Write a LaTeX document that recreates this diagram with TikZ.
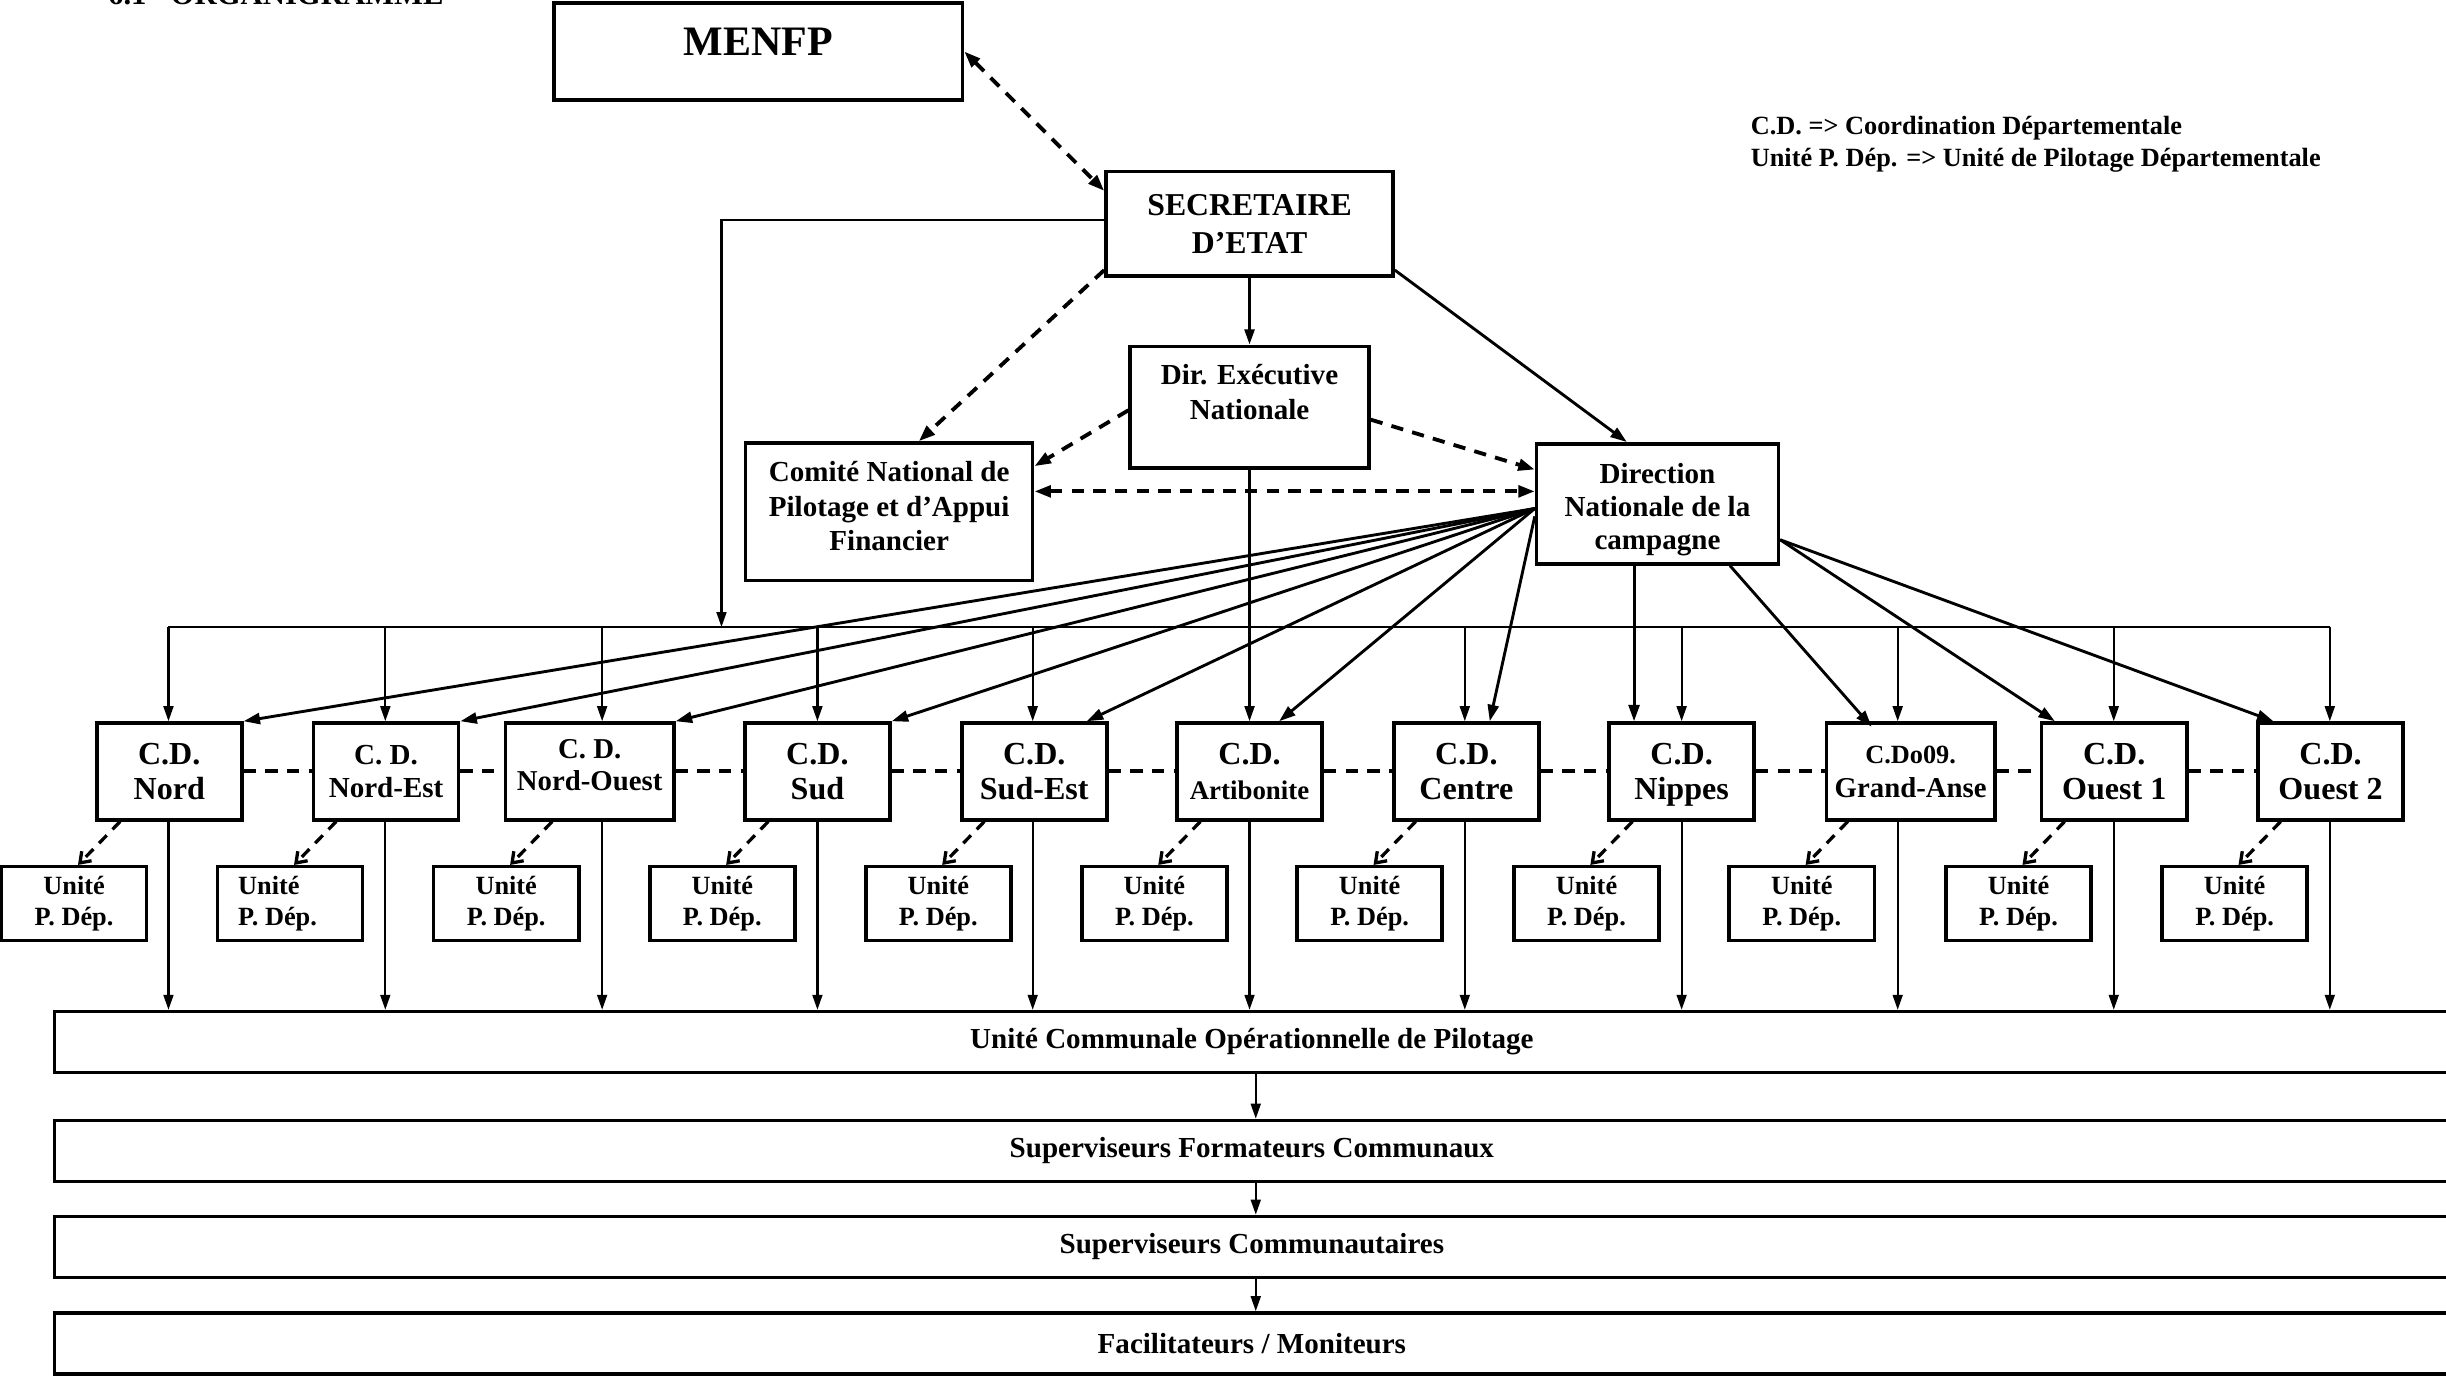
\documentclass[tikz,border=0pt]{standalone}
\usepackage{fontspec}
\setmainfont{Liberation Serif}
\usetikzlibrary{arrows.meta,calc}
\begin{document}
\begin{tikzpicture}[x=0.2mm,y=-0.2mm,
  box/.style={draw, line width=1.3pt, inner sep=0pt, align=center},
  cdbox/.style={box, text depth=0pt, minimum width=93*0.2mm, minimum height=62*0.2mm, font=\fontsize{11.7}{13.1}\selectfont\bfseries},
  ubox/.style={box, minimum width=93*0.2mm, minimum height=47.4*0.2mm, font=\fontsize{9.6}{11.5}\selectfont\bfseries},
  wbox/.style={box, minimum width=1535*0.2mm, minimum height=39*0.2mm, font=\fontsize{10.6}{12}\selectfont\bfseries},
  conn/.style={line width=0.8pt, -{Triangle[length=5.5pt,width=3.6pt]}},
  fan/.style={line width=1.05pt, -{Triangle[length=6pt,width=4pt]}},
  dsh/.style={line width=1.4pt, dash pattern=on 4.5pt off 3.4pt},
  dtip/.style={dsh, -{Triangle[length=6pt,width=4.2pt]}},
  ddtip/.style={dsh, {Triangle[length=6pt,width=4.2pt]}-{Triangle[length=6pt,width=4.2pt]}},
  utip/.style={line width=1.2pt, dash pattern=on 4pt off 3pt, -{Straight Barb[length=3.5pt,width=5pt]}},
  txt/.style={inner sep=0pt, align=center},
]
\useasboundingbox (0,0) rectangle (1568,882);
\clip (0,0) rectangle (1568,882);

% title and legend
\node[anchor=base west, inner sep=0pt, font=\fontsize{11.2}{13}\selectfont\bfseries] (title) at (69,3.2) {6.1\hspace{3.1mm}ORGANIGRAMME};
\node[anchor=north west, inner sep=0pt, align=left, font=\fontsize{9.6}{11.4}\selectfont\bfseries] (legend) at (1122,74.4) {C.D. => Coordination Départementale\\Unité P. Dép. => Unité de Pilotage Départementale};

% top boxes
\node[box, minimum width=262*0.2mm, minimum height=62*0.2mm] (menfp) at (486,33) {};
\node[txt, font=\fontsize{15.3}{18}\selectfont\bfseries] (menfpT) at (486,26.5) {MENFP};
\node[box, minimum width=184*0.2mm, minimum height=67*0.2mm, font=\fontsize{11.6}{13.9}\selectfont\bfseries] (se) at (801,143.5) {SECRETAIRE\\D’ETAT};
\node[box, minimum width=153*0.2mm, minimum height=78*0.2mm] (dir) at (801,261) {};
\node[txt, font=\fontsize{10.6}{12.5}\selectfont\bfseries] (dirT) at (801,251.3) {Dir. Exécutive\\Nationale};
\node[box, minimum width=184*0.2mm, minimum height=88*0.2mm] (com) at (570,328) {};
\node[txt, font=\fontsize{10.6}{12.5}\selectfont\bfseries] (comT) at (570,324.5) {Comité National de\\Pilotage et d’Appui\\Financier};
\node[box, minimum width=155*0.2mm, minimum height=77*0.2mm] (dnc) at (1062.5,323) {};
\node[txt, text depth=0pt, font=\fontsize{10.6}{12}\selectfont\bfseries] (dncT) at (1062.5,324.5) {Direction\\Nationale de la\\campagne};

% C.D. boxes
\node[cdbox] (cd1) at (108.5,494.5) {C.D.\\Nord};
\node[cdbox, font=\fontsize{10.6}{12.1}\selectfont\bfseries] (cd2) at (247.5,494.5) {C. D.\\Nord-Est};
\node[cdbox, minimum width=108*0.2mm] (cd3) at (378,494.5) {};
\node[txt, font=\fontsize{10.5}{11.9}\selectfont\bfseries] (cd3T) at (378,490.5) {C. D.\\Nord-Ouest};
\node[cdbox] (cd4) at (524,494.5) {C.D.\\Sud};
\node[cdbox] (cd5) at (663,494.5) {C.D.\\Sud-Est};
\node[cdbox] (cd6) at (801,494.5) {C.D.\\{\fontsize{9.8}{11.9}\selectfont Artibonite}};
\node[cdbox] (cd7) at (940,494.5) {C.D.\\Centre};
\node[cdbox] (cd8) at (1078,494.5) {C.D.\\Nippes};
\node[cdbox, minimum width=108*0.2mm, font=\fontsize{10.5}{12.5}\selectfont\bfseries] (cd9) at (1224.8,494.5) {{\fontsize{9.6}{12.5}\selectfont C.Do09.}\\Grand-Anse};
\node[cdbox] (cd10) at (1355.3,494.5) {C.D.\\Ouest 1};
\node[cdbox] (cd11) at (1494,494.5) {C.D.\\Ouest 2};

% Unit boxes
\foreach \i/\x in {1/47.5,3/324.5,4/463,5/601.5,6/740,7/878,8/1017,9/1155,10/1294,11/1432.5}
  \node[ubox] (u\i) at (\x,579.3) {Unité\\P. Dép.};
\node[ubox] (u2) at (186,579.3) {};
\node[txt, align=left, anchor=west, font=\fontsize{9.6}{11.5}\selectfont\bfseries] (u2T) at ($(u2.west)+(14,0)$) {Unité\\P. Dép.};

% bottom boxes
\node[wbox] (uc) at (802.5,668) {Unité Communale Opérationnelle de Pilotage};
\node[wbox] (sfc) at (802.5,737.8) {Superviseurs Formateurs Communaux};
\node[wbox] (sc) at (802.5,799.3) {Superviseurs Communautaires};
\node[wbox] (fm) at (802.5,861.2) {Facilitateurs / Moniteurs};

% bus
\foreach \i/\x in {1/108,2/247,3/386,4/524,5/662,6/801,7/939,8/1078,9/1216.5,10/1355,11/1493.5}
  \coordinate (b\i) at (\x,402);
\draw[line width=0.8pt] (b1) -- (b11);
\foreach \i in {1,2,3,4,5,7,8,9,10,11}
  \draw[conn] (b\i) -- (b\i |- cd\i.north);
\foreach \i in {1,...,11}
  \draw[conn] (b\i |- cd\i.south) -- (b\i |- uc.north);

% C.D. to units
\foreach \i in {1,...,11}{
  \coordinate (us\i) at ($(u\i.north)+(29.5,0)$);
  \draw[utip] (us\i |- cd\i.south) -- ($(u\i.north)+(2.5,0)$);
}
% dashed links between C.D.
\foreach \i/\j in {1/2,2/3,3/4,4/5,5/6,6/7,7/8,8/9,9/10,10/11}
  \draw[dsh] (cd\i.east) -- (cd\j.west);

% top connectors
\draw[ddtip] (menfp.east) -- ($(se.north west)+(0,13.5)$);
\draw[conn, line width=1pt] (se.south) -- (dir.north);
\draw[fan] ($(se.south east)+(0,-5)$) -- ($(dnc.north west)+(59,0)$);
\draw[dtip] ($(se.south west)+(0,-5)$) -- ($(com.north)+(19,0)$);
\draw[dtip] ($(dir.west)+(0,2)$) -- ($(com.north east)+(0,16)$);
\draw[dtip] ($(dir.east)+(0,8)$) -- ($(dnc.west)+(0,-22)$);
\draw[ddtip] ($(com.east)+(0,-13)$) -- ($(dnc.west)+(0,-8)$);
\coordinate (sb) at (462.5,402);
\draw[conn] ($(se.west)+(0,-2.5)$) -| (sb);
\draw[conn] (dir.south) -- (cd6.north);

% fan from Direction Nationale
\coordinate (fo) at ($(dnc.west)+(0,3)$);
\foreach \t in {cd1,cd2,cd3,cd4}
  \draw[fan] (fo) -- (\t.north east);
\draw[fan] (fo) -- ($(cd5.north east)+(-14,0)$);
\draw[fan] (fo) -- ($(cd6.north)+(19,0)$);
\draw[fan] ($(dnc.west)+(0,8)$) -- ($(cd7.north)+(15,0)$);
\coordinate (np) at ($(dnc.south)+(-15,0)$);
\draw[fan] (np) -- (np |- cd8.north);
\draw[fan] ($(dnc.south)+(46.5,0)$) -- ($(cd9.north)+(-25,3.5)$);
\coordinate (fr) at ($(dnc.east)+(0,23)$);
\draw[fan] (fr) -- ($(cd10.north west)+(9.6,0)$);
\draw[fan] (fr) -- ($(cd11.north west)+(11,0)$);

% lower chain
\coordinate (mx) at (805,0);
\draw[conn] (uc.south -| mx) -- (sfc.north -| mx);
\draw[conn] (sfc.south -| mx) -- (sc.north -| mx);
\draw[conn] (sc.south -| mx) -- (fm.north -| mx);
\end{tikzpicture}
\end{document}
